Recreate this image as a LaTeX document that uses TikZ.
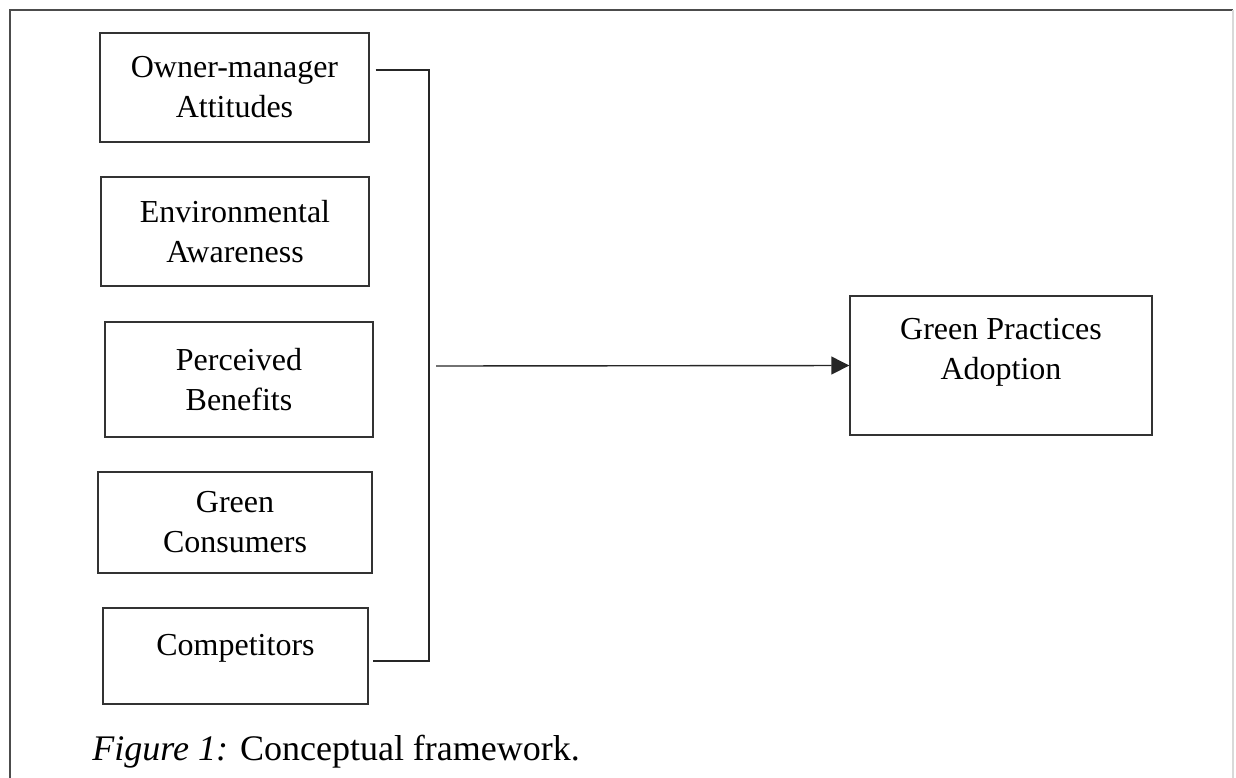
\documentclass[tikz,border=0pt]{standalone}
\usepackage{fontspec}
\setmainfont{Liberation Serif}
\usetikzlibrary{arrows.meta, positioning}

\begin{document}
\begin{tikzpicture}[x=0.5pt,y=-0.5pt,>={Triangle[length=9pt,width=9pt]},
	every node/.style={font=\fontsize{16pt}{20pt}\selectfont},
	box/.style={draw=black!80, line width=0.7pt, rectangle, align=center, inner sep=0pt},
	line/.style={draw=black!85, line width=0.7pt}]
	\useasboundingbox (0,0) rectangle (1236,777);
	
	% frame
	\draw[black!70, line width=1pt] (10,800) -- (10,10) -- (1233,10);
	\draw[black!15, line width=0.6pt] (1233,10) -- (1233,800);
	
	\node[box, minimum width=134.5pt, minimum height=54.5pt] (att) at (234.5,87.5) {Owner-manager\\Attitudes};
	\node[box, minimum width=134pt, minimum height=54.5pt] (env) at (235,231.5) {Environmental\\Awareness};
	\node[box, minimum width=134pt, minimum height=57.5pt] (ben) at (239,379.5) {Perceived\\Benefits};
	\node[box, minimum width=137pt, minimum height=50.5pt] (cons) at (235,522.5) {Green\\Consumers};
	\node[box, minimum width=132.5pt, minimum height=48pt, text depth=11pt] (comp) at (235.5,656) {Competitors};
	
	\node[box, minimum width=151pt, minimum height=69.5pt, text depth=17pt] (gpa) at (1001,365.5) {Green Practices\\Adoption};
	
	\coordinate (jt) at (429,70);
	\coordinate (jb) at (429,661);
	\coordinate (js) at (436,366);
	
	\path[line, shorten <=3pt, shorten >=2pt] (att.east |- jt) -- (jt) -- (jb) -- (comp.east |- jb);
	\path[line, ->] (js) -- (gpa.west);
	
	\node[anchor=base west, inner sep=0pt, font=\fontsize{18pt}{20pt}\selectfont] (cap) at (92,760) {\textit{Figure 1:} Conceptual framework.};
\end{tikzpicture}
\end{document}
